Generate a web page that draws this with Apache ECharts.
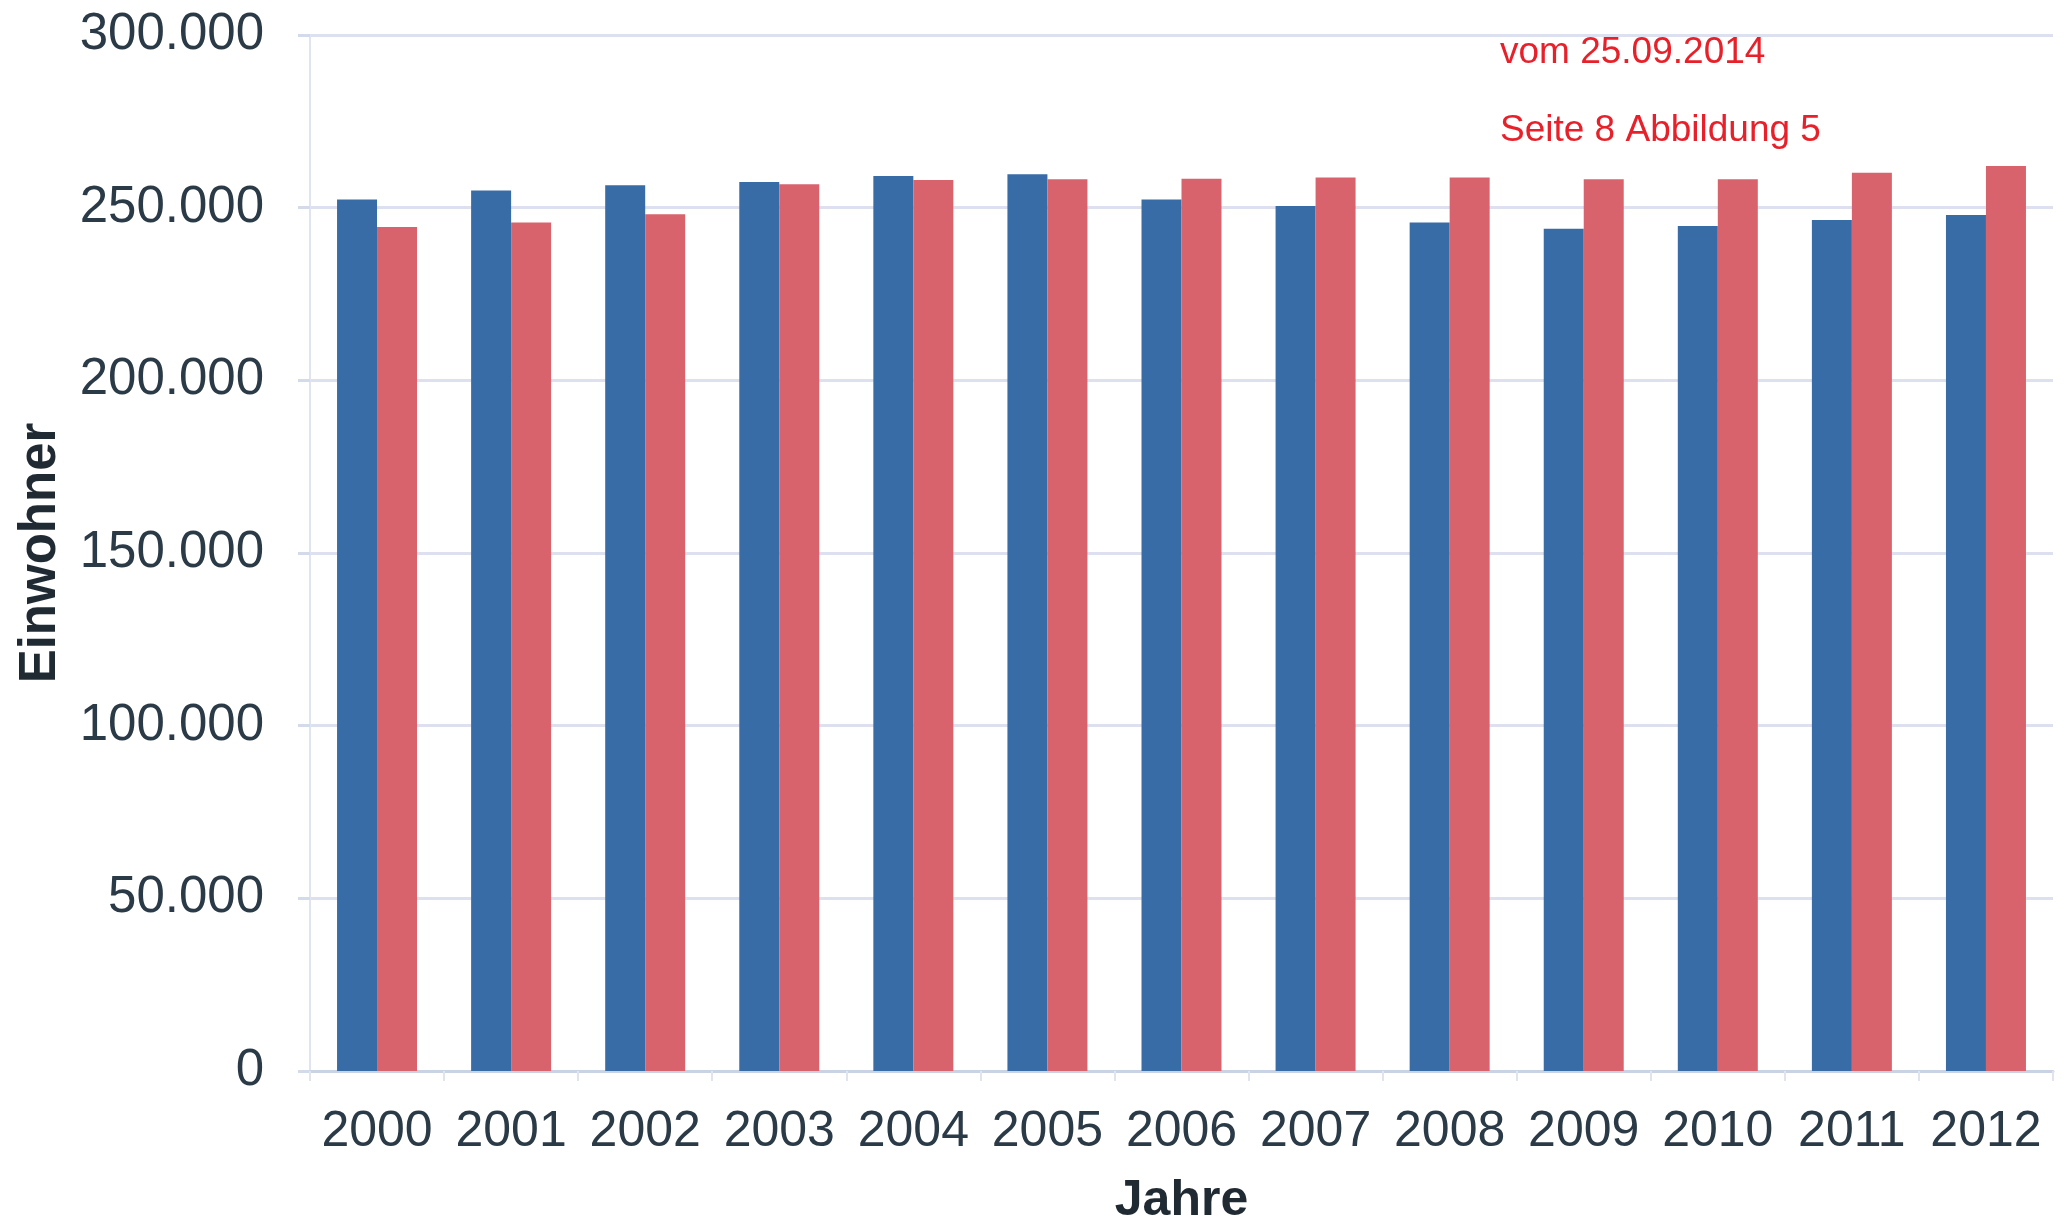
<!DOCTYPE html>
<html>
<head>
<meta charset="utf-8">
<script src="https://cdn.jsdelivr.net/npm/echarts@6/dist/echarts.min.js"></script>
<style>
  html, body { margin: 0; padding: 0; background: #ffffff; }
  #chart { width: 2064px; height: 1223px; }
</style>
</head>
<body>
<div id="chart"></div>
<script>
// Einwohner je Jahr, zwei Reihen
const jahre = ['2000', '2001', '2002', '2003', '2004', '2005', '2006', '2007', '2008', '2009', '2010', '2011', '2012'];
const reiheBlau = [252400, 255000, 256500, 257400, 259200, 259700, 252400, 250500, 245700, 243900, 244700, 246400, 247900];
const reiheRot = [244400, 245700, 248100, 256800, 258000, 258200, 258400, 258700, 258700, 258200, 258200, 260100, 262100];
const yTicks = { min: 0, max: 300000, interval: 50000 };
const hinweise = ['vom 25.09.2014', 'Seite 8 Abbildung 5'];

const fmt = v => v === 0 ? '0' : String(v).replace(/\B(?=(\d{3})+(?!\d))/g, '.');

const chart = echarts.init(document.getElementById('chart'), null, { renderer: 'canvas' });
chart.setOption({
  animation: false,
  backgroundColor: '#ffffff',
  textStyle: { fontFamily: 'Liberation Sans, Arial, sans-serif' },
  grid: { left: 310, right: 11, top: 35, bottom: 152, containLabel: false, outerBoundsMode: 'none' },
  xAxis: {
    type: 'category',
    data: jahre,
    name: 'Jahre',
    nameLocation: 'middle',
    nameGap: 105,
    nameTextStyle: { fontSize: 50, fontWeight: 'bold', color: '#1f2a33' },
    axisLine: { show: true, lineStyle: { color: '#c9d3e3', width: 3 } },
    axisTick: { show: true, length: 10, lineStyle: { color: '#dfe4ee', width: 2 } },
    axisLabel: { fontSize: 50, color: '#2b3a47', margin: 36, interval: 0 },
    splitLine: { show: false }
  },
  yAxis: {
    type: 'value',
    min: yTicks.min,
    max: yTicks.max,
    interval: yTicks.interval,
    name: 'Einwohner',
    nameLocation: 'middle',
    nameGap: 244,
    nameRotate: 90,
    nameTextStyle: { fontSize: 51, fontWeight: 'bold', color: '#1f2a33' },
    axisLine: { show: true, lineStyle: { color: '#dfe4f0', width: 2 } },
    axisTick: { show: true, length: 12, lineStyle: { color: '#d3daea', width: 3 } },
    axisLabel: { fontSize: 51, color: '#2b3a47', margin: 46, formatter: fmt },
    splitLine: { show: true, lineStyle: { color: '#dde1ef', width: 3 } }
  },
  series: [
    {
      type: 'bar',
      data: reiheBlau,
      barWidth: 40,
      barGap: '0%',
      itemStyle: { color: '#386ca7' }
    },
    {
      type: 'bar',
      data: reiheRot,
      barWidth: 40,
      itemStyle: { color: '#d9636d' }
    }
  ],
  graphic: [
    {
      type: 'text', left: 1500, top: 34,
      style: { text: hinweise[0], fontSize: 37, fill: '#e8202a', fontFamily: 'Liberation Sans, Arial, sans-serif' }
    },
    {
      type: 'text', left: 1500, top: 112,
      style: { text: hinweise[1], fontSize: 37, fill: '#e8202a', fontFamily: 'Liberation Sans, Arial, sans-serif' }
    }
  ]
});
</script>
</body>
</html>
